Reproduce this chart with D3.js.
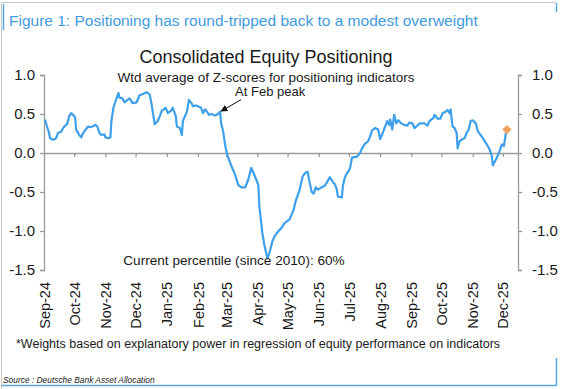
<!DOCTYPE html>
<html lang="en">
<meta charset="utf-8">
<head>
<script src="https://d3js.org/d3.v7.min.js"></script>
<style>
  body { margin: 0; background: #fff; }
  text { font-family: "Liberation Sans", Arial, sans-serif; fill: #1a1a1a; }
</style>
</head>
<body>
<div id="my_dataviz"></div>
<script>

// consolidated positioning
var dates = [
  "2024-09-02","2024-09-04","2024-09-06","2024-09-07","2024-09-10","2024-09-13","2024-09-15","2024-09-18",
  "2024-09-20","2024-09-22","2024-09-24","2024-09-26","2024-09-28","2024-09-30","2024-10-02","2024-10-03",
  "2024-10-06","2024-10-08","2024-10-10","2024-10-13","2024-10-15","2024-10-17","2024-10-19","2024-10-22",
  "2024-10-24","2024-10-26","2024-10-28","2024-10-31","2024-11-01","2024-11-04","2024-11-06","2024-11-07",
  "2024-11-09","2024-11-11","2024-11-14","2024-11-15","2024-11-18","2024-11-20","2024-11-23","2024-11-25",
  "2024-11-28","2024-12-02","2024-12-05","2024-12-09","2024-12-12","2024-12-15","2024-12-17","2024-12-19",
  "2024-12-20","2024-12-23","2024-12-25","2024-12-27","2024-12-29","2024-12-31","2025-01-02","2025-01-05",
  "2025-01-07","2025-01-10","2025-01-11","2025-01-14","2025-01-16","2025-01-17","2025-01-19","2025-01-21",
  "2025-01-23","2025-01-26","2025-01-27","2025-01-30","2025-02-01","2025-02-04","2025-02-06","2025-02-08",
  "2025-02-10","2025-02-12","2025-02-15","2025-02-16","2025-02-18","2025-02-21","2025-02-23","2025-02-24",
  "2025-02-26","2025-02-28","2025-03-02","2025-03-04","2025-03-06","2025-03-10","2025-03-13","2025-03-16",
  "2025-03-20","2025-03-23","2025-03-26","2025-03-29","2025-04-02","2025-04-03","2025-04-06","2025-04-08",
  "2025-04-11","2025-04-13","2025-04-16","2025-04-18","2025-04-22","2025-04-25","2025-04-28","2025-05-03",
  "2025-05-07","2025-05-09","2025-05-13","2025-05-16","2025-05-19","2025-05-21","2025-05-23","2025-05-25",
  "2025-05-27","2025-05-29","2025-05-31","2025-06-04","2025-06-07","2025-06-09","2025-06-12","2025-06-15",
  "2025-06-17","2025-06-19","2025-06-20","2025-06-24","2025-06-25","2025-06-27","2025-06-29","2025-07-02",
  "2025-07-04","2025-07-07","2025-07-09","2025-07-12","2025-07-14","2025-07-17","2025-07-20","2025-07-22",
  "2025-07-24","2025-07-27","2025-07-30","2025-08-01","2025-08-04","2025-08-06","2025-08-08","2025-08-10",
  "2025-08-11","2025-08-13","2025-08-15","2025-08-17","2025-08-19","2025-08-22","2025-08-25","2025-08-28",
  "2025-08-30","2025-09-02","2025-09-04","2025-09-07","2025-09-09","2025-09-12","2025-09-14","2025-09-17",
  "2025-09-19","2025-09-23","2025-09-24","2025-09-27","2025-09-30","2025-10-02","2025-10-05","2025-10-07",
  "2025-10-09","2025-10-10","2025-10-12","2025-10-14","2025-10-16","2025-10-17","2025-10-19","2025-10-22",
  "2025-10-24","2025-10-26","2025-10-28","2025-10-30","2025-11-01","2025-11-04","2025-11-06","2025-11-09",
  "2025-11-11","2025-11-14","2025-11-16","2025-11-18","2025-11-20","2025-11-21","2025-11-23","2025-11-25",
  "2025-11-27","2025-11-30","2025-12-02","2025-12-04","2025-12-05"
];
var values = [
  0.43,0.34,0.26,0.19,0.17,0.19,0.26,0.27,
  0.32,0.35,0.37,0.47,0.51,0.49,0.45,0.30,
  0.23,0.20,0.26,0.31,0.34,0.33,0.34,0.36,
  0.34,0.26,0.23,0.24,0.20,0.19,0.20,0.41,
  0.58,0.66,0.77,0.71,0.70,0.65,0.68,0.70,
  0.64,0.65,0.74,0.76,0.78,0.75,0.62,0.45,
  0.37,0.41,0.47,0.54,0.56,0.58,0.51,0.54,
  0.58,0.47,0.34,0.32,0.23,0.41,0.47,0.53,
  0.68,0.63,0.60,0.61,0.60,0.58,0.51,0.56,
  0.53,0.49,0.50,0.49,0.48,0.50,0.53,0.38,
  0.28,0.10,-0.02,-0.09,-0.16,-0.28,-0.41,-0.44,
  -0.44,-0.34,-0.19,-0.28,-0.41,-0.68,-1.03,-1.18,
  -1.35,-1.28,-1.13,-1.07,-1.00,-0.96,-0.90,-0.85,
  -0.73,-0.62,-0.47,-0.30,-0.25,-0.24,-0.38,-0.50,
  -0.52,-0.44,-0.47,-0.44,-0.42,-0.38,-0.31,-0.37,
  -0.40,-0.47,-0.56,-0.57,-0.42,-0.31,-0.26,-0.20,
  -0.06,-0.05,-0.05,0.00,0.06,0.12,0.15,0.21,
  0.29,0.32,0.30,0.18,0.27,0.34,0.41,0.36,
  0.43,0.30,0.49,0.38,0.42,0.38,0.36,0.35,
  0.39,0.38,0.32,0.35,0.38,0.38,0.38,0.35,
  0.41,0.45,0.49,0.44,0.44,0.51,0.53,0.55,
  0.51,0.56,0.34,0.32,0.26,0.06,0.15,0.18,
  0.19,0.26,0.30,0.41,0.42,0.38,0.28,0.23,
  0.19,0.13,0.09,0.04,-0.04,-0.16,-0.11,-0.06,
  0.00,0.11,0.09,0.26,0.30
];
var yTicks = [-1.5, -1.0, -0.5, 0.0, 0.5, 1.0];
var peakDate = "2025-02-23";

var W = 564, H = 389;
var parse = d3.timeParse("%Y-%m-%d");
var data = dates.map(function(d, i){ return {date: parse(d), value: values[i]}; });

var svg = d3.select("#my_dataviz").append("svg")
  .attr("width", W).attr("height", H);

// frame
var grey = "#c8c8c8", blue = "#5aa7e0";
svg.append("line").attr("x1", 1.5).attr("x2", 1.5).attr("y1", 3).attr("y2", H).attr("stroke", grey);
svg.append("line").attr("x1", 1.5).attr("x2", 556).attr("y1", 2.5).attr("y2", 2.5).attr("stroke", grey);
svg.append("line").attr("x1", 3.5).attr("x2", 3.5).attr("y1", 4).attr("y2", 30).attr("stroke", blue).attr("stroke-width", 1.5);
svg.append("line").attr("x1", 556.5).attr("x2", 556.5).attr("y1", 3).attr("y2", 12).attr("stroke", blue).attr("stroke-width", 1.5);
svg.append("line").attr("x1", 1.5).attr("x2", 557).attr("y1", 385.5).attr("y2", 385.5).attr("stroke", blue).attr("stroke-width", 1.5);
svg.append("line").attr("x1", 556.5).attr("x2", 556.5).attr("y1", 358).attr("y2", 386).attr("stroke", blue).attr("stroke-width", 1.5);

svg.append("text").attr("x", 9).attr("y", 25.5)
  .style("font-size", "15.5px").style("fill", "#3f9ae0")
  .text("Figure 1: Positioning has round-tripped back to a modest overweight");

svg.append("text").attr("x", 266).attr("y", 62.5).attr("text-anchor", "middle")
  .style("font-size", "18px")
  .text("Consolidated Equity Positioning");
svg.append("text").attr("x", 266).attr("y", 81.5).attr("text-anchor", "middle")
  .style("font-size", "13.5px")
  .text("Wtd average of Z-scores for positioning indicators");

var xScale = d3.scaleTime()
  .domain([parse("2024-09-01"), parse("2025-12-16")])
  .range([44, 518]);
var yScale = d3.scaleLinear().domain([-1.5, 1.0]).range([270, 75]);

var axisCol = "#9a9a9a";
var fmt = function(d){ return d.toFixed(1); };

var gl = svg.append("g").attr("transform", "translate(44,0)")
  .call(d3.axisLeft(yScale).tickValues(yTicks).tickFormat(fmt).tickSizeOuter(0).tickSize(4).tickPadding(5));
var gr = svg.append("g").attr("transform", "translate(518,0)")
  .call(d3.axisRight(yScale).tickValues(yTicks).tickFormat(fmt).tickSizeOuter(0).tickSize(4).tickPadding(10));
[gl, gr].forEach(function(g){
  g.select(".domain").attr("stroke", axisCol).attr("stroke-width", 1.3);
  g.selectAll(".tick line").attr("stroke", axisCol).attr("stroke-width", 1.3);
  g.selectAll(".tick text").style("font-size", "15px").style("font-family", "Liberation Sans, Arial, sans-serif").attr("fill", "#1a1a1a");
});

var months = d3.timeMonth.range(parse("2024-09-01"), parse("2025-12-02"));

// zero line with month ticks
var gx = svg.append("g").attr("transform", "translate(0," + yScale(0) + ")")
  .call(d3.axisBottom(xScale).tickValues(months).tickSize(4).tickSizeOuter(0).tickFormat(""));
gx.select(".domain").attr("stroke", axisCol).attr("stroke-width", 1.3);
gx.selectAll(".tick line").attr("stroke", axisCol).attr("stroke-width", 1.3);

// month labels under the plot
var gxl = svg.append("g").attr("transform", "translate(0," + yScale(-1.5) + ")")
  .call(d3.axisBottom(xScale).tickValues(months).tickSize(0).tickFormat(d3.timeFormat("%b-%y")));
gxl.select(".domain").remove();
gxl.selectAll(".tick text")
  .attr("transform", "rotate(-90)")
  .attr("text-anchor", "end")
  .attr("x", -12).attr("y", 0).attr("dy", "0.35em")
  .style("font-size", "14.5px").style("font-family", "Liberation Sans, Arial, sans-serif").attr("fill", "#1a1a1a");

var line = d3.line()
  .x(function(d){ return xScale(d.date); })
  .y(function(d){ return yScale(d.value); });
svg.append("path").datum(data)
  .attr("fill", "none").attr("stroke", "#3ea0ea").attr("stroke-width", 2.2)
  .attr("stroke-linejoin", "round")
  .attr("d", line);

var last = data[data.length - 1];
svg.append("path")
  .attr("d", d3.symbol().type(d3.symbolDiamond2).size(55))
  .attr("transform", "translate(" + xScale(last.date) + "," + yScale(last.value) + ")")
  .attr("fill", "#f5a05c");

// annotations
var peak = data.find(function(d){ return +d.date === +parse(peakDate); });
var px = xScale(peak.date), py = yScale(peak.value);
svg.append("defs").append("marker")
  .attr("id", "arr").attr("viewBox", "0 0 10 10").attr("refX", 9).attr("refY", 5)
  .attr("markerWidth", 7).attr("markerHeight", 7).attr("orient", "auto")
  .append("path").attr("d", "M0,0L10,5L0,10z").attr("fill", "#111");
svg.append("line")
  .attr("x1", px + 21).attr("y1", py - 12).attr("x2", px + 1).attr("y2", py - 0.5)
  .attr("stroke", "#111").attr("stroke-width", 1).attr("marker-end", "url(#arr)");
svg.append("text").attr("x", px + 15).attr("y", py - 15.5)
  .style("font-size", "13px").text("At Feb peak");

svg.append("text").attr("x", 234).attr("y", 265).attr("text-anchor", "middle")
  .style("font-size", "13.6px").text("Current percentile (since 2010): 60%");

svg.append("text").attr("x", 16).attr("y", 348)
  .style("font-size", "12.5px")
  .text("*Weights based on explanatory power in regression of equity performance on indicators");

svg.append("text").attr("x", 3).attr("y", 383)
  .style("font-size", "8.4px").style("font-style", "italic")
  .text("Source : Deutsche Bank Asset Allocation");

</script>
</body>
</html>
